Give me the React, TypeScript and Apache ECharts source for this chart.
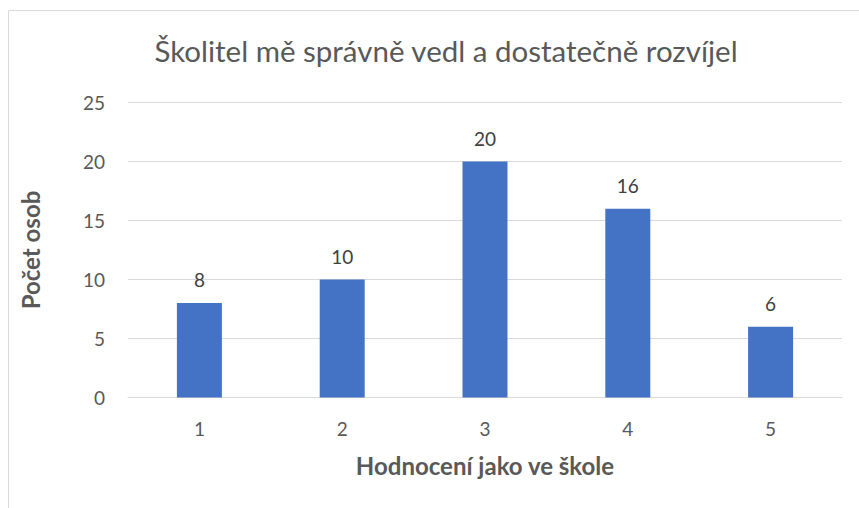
import React, { useEffect, useRef } from "react";
import * as echarts from "echarts";

const title = "Školitel mě správně vedl a dostatečně rozvíjel";
const categories = ["1", "2", "3", "4", "5"];
const values = [8, 10, 20, 16, 6];
const xName = "Hodnocení jako ve škole";
const yName = "Počet osob";

const FONT = "Lato, 'Open Sans', sans-serif";

export default function App() {
  const ref = useRef<HTMLDivElement>(null);
  useEffect(() => {
    if (!ref.current) return;
    const chart = echarts.init(ref.current, undefined, { renderer: "svg" });
    chart.setOption({
      animation: false,
      backgroundColor: "#ffffff",
      textStyle: { fontFamily: FONT },
      title: {
        text: title,
        left: 441,
        top: 30,
        textAlign: "center",
        textStyle: { fontFamily: FONT, fontSize: 29.5, fontWeight: "normal", color: "#595959" },
      },
      graphic: [
        { type: "line", shape: { x1: 8.5, y1: 10.5, x2: 8.5, y2: 508 }, style: { stroke: "#d9d9d9", lineWidth: 1 } },
        { type: "line", shape: { x1: 8.5, y1: 10.5, x2: 859, y2: 10.5 }, style: { stroke: "#d9d9d9", lineWidth: 1 } },
      ],
      grid: { left: 128, right: 17, top: 102.5, bottom: 110.5, containLabel: false },
      xAxis: {
        type: "category",
        data: categories,
        name: xName,
        nameLocation: "middle",
        nameGap: 56,
        nameTextStyle: { fontFamily: FONT, fontSize: 24, fontWeight: "bold", color: "#595959" },
        axisLine: { lineStyle: { color: "#d9d9d9", width: 1 } },
        axisTick: { show: false },
        axisLabel: { color: "#595959", fontSize: 19, margin: 21, fontFamily: FONT },
      },
      yAxis: {
        type: "value",
        min: 0,
        max: 25,
        interval: 5,
        name: yName,
        nameLocation: "middle",
        nameGap: 86,
        nameTextStyle: { fontFamily: FONT, fontSize: 24, fontWeight: "bold", color: "#595959" },
        axisLine: { show: false },
        axisTick: { show: false },
        splitLine: { lineStyle: { color: "#d9d9d9", width: 1 } },
        axisLabel: { color: "#595959", fontSize: 19, margin: 23, fontFamily: FONT },
      },
      series: [
        {
          type: "bar",
          data: values,
          barWidth: 45,
          itemStyle: { color: "#4472C4" },
          label: {
            show: true,
            position: "top",
            distance: 14,
            color: "#404040",
            fontSize: 19,
            fontFamily: FONT,
          },
        },
      ],
    });
    return () => chart.dispose();
  }, []);
  return (
    <div
      ref={ref}
      style={{ position: "absolute", left: 0, top: 0, width: 859, height: 508 }}
    />
  );
}
